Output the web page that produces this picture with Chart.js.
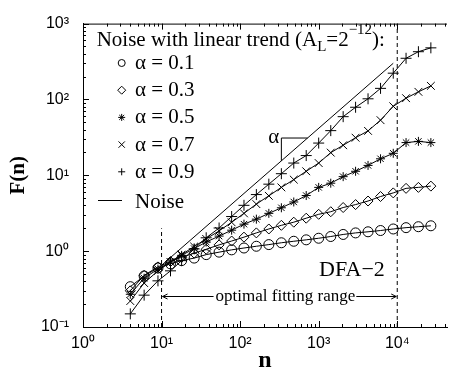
<!DOCTYPE html>
<html>
<head>
<meta charset="utf-8">
<script src="https://cdn.jsdelivr.net/npm/chart.js"></script>
<style>
  html, body { margin: 0; padding: 0; background: #fff; }
</style>
</head>
<body>
<canvas id="chart_dfa" width="454" height="370"></canvas>
<script>
// box sizes n
var nValues = [4, 6, 9, 13, 18, 26, 37, 54, 78, 112, 161, 232, 335, 482, 694,
               1000, 1425, 2050, 2950, 4250, 6130, 8900, 12950, 18600, 26800];

// F(n) for noise + linear trend
var fAlpha01 = [0.34, 0.47, 0.60, 0.68, 0.75, 0.81, 0.90, 0.97, 1.04, 1.10, 1.16, 1.22, 1.29,
                1.35, 1.41, 1.48, 1.56, 1.66, 1.74, 1.80, 1.87, 1.96, 2.04, 2.10, 2.16];
var fAlpha03 = [0.30, 0.48, 0.62, 0.73, 0.83, 0.94, 1.06, 1.21, 1.36, 1.53, 1.74, 1.96, 2.19,
                2.41, 2.72, 3.06, 3.31, 3.76, 4.11, 4.58, 5.25, 5.86, 6.73, 6.93, 7.2];
var fAlpha05 = [0.27, 0.44, 0.58, 0.72, 0.88, 1.08, 1.32, 1.58, 1.89, 2.27, 2.64, 3.15, 3.73,
                4.45, 5.41, 6.93, 7.87, 9.6, 11.3, 13.5, 16.5, 19.5, 27.0, 28.0, 27.0];
var fAlpha07 = [0.22, 0.38, 0.55, 0.72, 0.90, 1.15, 1.45, 1.85, 2.4, 3.15, 4.17, 5.36, 6.93,
                8.77, 11.3, 14.5, 19.9, 24.9, 31.3, 38.5, 53.3, 81.3, 104, 126, 151];
var fAlpha09 = [0.149, 0.263, 0.406, 0.55, 0.75, 1.07, 1.50, 2.02, 2.86, 4.02, 5.57, 7.64, 10.5,
                14.5, 18.2, 26.6, 38.8, 59.3, 78.9, 102, 140, 222, 349, 426, 479];

// pure noise (alpha = 0.9) reference line
var noiseN = [10, 8900];
var noiseF = [0.65, 300];

// slope triangle
var triN = [335, 335, 722];
var triF = [15.5, 31, 31];

// optimal fitting range
var fitN = [10, 10000];
var fitTopF = [2.0, 1000];
var arrowF = 0.255;

var legendLabels = ['\u03b1 = 0.1', '\u03b1 = 0.3', '\u03b1 = 0.5', '\u03b1 = 0.7', '\u03b1 = 0.9'];
var superDigits = {'-': '\u207b', '0': '\u2070', '1': '\u00b9', '2': '\u00b2', '3': '\u00b3', '4': '\u2074'};

var serif = '"Liberation Serif", "Times New Roman", serif';
var sans = '"Liberation Sans", Arial, sans-serif';

function pts(xs, ys) {
  return xs.map(function (x, i) { return { x: x, y: ys[i] }; });
}

function powLabel(value) {
  var l = Math.log10(value);
  if (Math.abs(l - Math.round(l)) > 1e-6) return '';
  var e = String(Math.round(l)).split('').map(function (c) { return superDigits[c]; }).join('');
  return '10' + e;
}

function series(label, data, style, radius) {
  return {
    label: label,
    data: pts(nValues, data),
    borderColor: '#000',
    borderWidth: 1,
    pointStyle: style,
    pointRadius: radius,
    pointBorderColor: '#000',
    pointBorderWidth: 1,
    pointBackgroundColor: 'rgba(0,0,0,0)',
    tension: 0
  };
}

function plainLine(data, dash) {
  return {
    data: data,
    borderColor: '#000',
    borderWidth: 1,
    borderDash: dash || [],
    pointRadius: 0,
    tension: 0
  };
}

var legendStyles = [
  { pointStyle: 'circle', radius: 3.5 },
  { pointStyle: 'rectRot', radius: 4 },
  { pointStyle: 'star', radius: 3.5 },
  { pointStyle: 'crossRot', radius: 4.5 },
  { pointStyle: 'cross', radius: 3.5 }
];

const decorPlugin = {
  id: 'decor',
  afterDraw(chart) {
    const ctx = chart.ctx;
    const xs = chart.scales.x, ys = chart.scales.y;
    const a = chart.chartArea;
    ctx.save();
    ctx.strokeStyle = '#000';
    ctx.fillStyle = '#000';
    ctx.lineWidth = 1;

    function seg(x1, y1, x2, y2) {
      ctx.beginPath(); ctx.moveTo(x1, y1); ctx.lineTo(x2, y2); ctx.stroke();
    }

    // top frame
    seg(a.left, a.top + 0.5, a.right, a.top + 0.5);

    // inward tick marks
    for (let k = 0; k <= 4; k++) {
      for (let m = 1; m <= 9; m++) {
        const v = m * Math.pow(10, k);
        if (v < xs.min || v > xs.max) continue;
        const px = Math.round(xs.getPixelForValue(v)) + 0.5;
        const len = m === 1 ? 6 : 3;
        seg(px, a.bottom, px, a.bottom - len);
        seg(px, a.top, px, a.top + len);
      }
    }
    for (let k = -1; k <= 3; k++) {
      for (let m = 1; m <= 9; m++) {
        const v = m * Math.pow(10, k);
        if (v < ys.min * 0.999 || v > ys.max * 1.001) continue;
        const py = Math.round(ys.getPixelForValue(v)) + 0.5;
        const len = m === 1 ? 6 : 3;
        seg(a.left, py, a.left + len, py);
      }
    }

    // optimal fitting range arrow
    const yA = Math.round(ys.getPixelForValue(arrowF)) + 0.5;
    const xL = xs.getPixelForValue(fitN[0]), xR = xs.getPixelForValue(fitN[1]);
    ctx.font = '17px ' + serif;
    const txt = 'optimal fitting range';
    const w = ctx.measureText(txt).width;
    const xc = xL + 54 + w / 2;
    ctx.textAlign = 'center';
    ctx.textBaseline = 'alphabetic';
    ctx.fillText(txt, xc, yA + 4);
    seg(xL + 1, yA, xc - w / 2 - 2, yA);
    seg(xL + 1, yA, xL + 6, yA - 2.5); seg(xL + 1, yA, xL + 6, yA + 2.5);
    seg(xc + w / 2 + 1, yA, xR - 1, yA);
    seg(xR - 1, yA, xR - 6, yA - 2.5); seg(xR - 1, yA, xR - 6, yA + 2.5);

    // DFA-2 label
    ctx.font = '22px ' + serif;
    ctx.textAlign = 'left';
    ctx.fillText('DFA\u22122', xs.getPixelForValue(1010), ys.getPixelForValue(0.47));

    // alpha label by the triangle
    ctx.font = '21px ' + serif;
    ctx.textAlign = 'right';
    ctx.fillText('\u03b1', xs.getPixelForValue(triN[0]) - 2, ys.getPixelForValue(triF[1]) + 5);

    // legend
    ctx.textAlign = 'left';
    let x0 = 96.7, yT = 46;
    const parts = [
      ['Noise with linear trend (A', 21, 0],
      ['L', 15, 5],
      ['=2', 21, 0],
      ['\u221212', 15, -12],
      ['):', 21, 0]
    ];
    parts.forEach(function (p) {
      ctx.font = p[1] + 'px ' + serif;
      ctx.fillText(p[0], x0, yT + p[2]);
      x0 += ctx.measureText(p[0]).width;
    });

    ctx.font = '21px ' + serif;
    legendLabels.forEach(function (lab, i) {
      const y = 63 + i * 27.2;
      const st = legendStyles[i];
      ctx.fillStyle = 'rgba(0,0,0,0)';
      Chart.helpers.drawPoint(ctx, {
        pointStyle: st.pointStyle, radius: st.radius, rotation: 0, borderWidth: 1
      }, 121.7, y);
      ctx.fillStyle = '#000';
      ctx.fillText(lab, 135, y + 6);
    });
    seg(98, 200.5, 122, 200.5);
    ctx.fillText('Noise', 135, 208);

    ctx.restore();
  }
};

var datasets = [
  plainLine(pts(noiseN, noiseF)),
  plainLine(pts(triN, triF)),
  plainLine(pts([fitN[0], fitN[0]], [0.1, fitTopF[0]]), [4, 3]),
  plainLine(pts([fitN[1], fitN[1]], [0.1, fitTopF[1]]), [4, 3]),
  series(legendLabels[0], fAlpha01, 'circle', 5),
  series(legendLabels[1], fAlpha03, 'rectRot', 5),
  series(legendLabels[2], fAlpha05, 'star', 4.5),
  series(legendLabels[3], fAlpha07, 'crossRot', 5.5),
  series(legendLabels[4], fAlpha09, 'cross', 5.5)
];

var chart = new Chart('chart_dfa', {
  type: 'line',
  data: { datasets: datasets },
  options: {
    responsive: false,
    animation: false,
    layout: { padding: { top: 15, right: 0, left: 0, bottom: 0 } },
    plugins: {
      legend: { display: false },
      tooltip: { enabled: false }
    },
    scales: {
      x: {
        type: 'logarithmic',
        min: 1,
        max: 43000,
        grid: { display: false, drawTicks: false },
        border: { display: true, color: '#000', width: 1 },
        ticks: {
          autoSkip: false, maxRotation: 0, padding: 7, color: '#000',
          font: { family: sans, size: 16 },
          callback: powLabel
        },
        title: {
          display: true, text: 'n', color: '#000',
          font: { family: serif, size: 24, weight: 'bold', lineHeight: 1 },
          padding: { top: 0, bottom: -3 }
        },
        afterFit: function (s) { s.height = 43; }
      },
      y: {
        type: 'logarithmic',
        min: 0.1,
        max: 1000,
        grid: { display: false, drawTicks: false },
        border: { display: true, color: '#000', width: 1 },
        ticks: {
          autoSkip: false, padding: 14, color: '#000',
          font: { family: sans, size: 16 },
          callback: powLabel
        },
        title: {
          display: true, text: 'F(n)', color: '#000',
          font: { family: serif, size: 21, weight: 'bold', lineHeight: 1 },
          padding: { top: 8, bottom: 0 }
        },
        afterFit: function (s) { s.width = 83; }
      }
    }
  },
  plugins: [decorPlugin]
});
</script>
</body>
</html>
